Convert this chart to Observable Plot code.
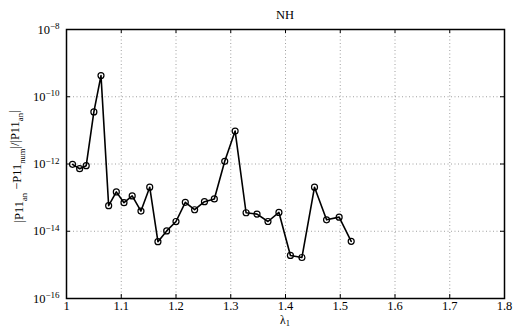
<!DOCTYPE html>
<html>
<head>
<meta charset="utf-8">
<script src="https://cdn.jsdelivr.net/npm/d3@7"></script>
<script src="https://cdn.jsdelivr.net/npm/@observablehq/plot@0.6"></script>
<style>
  html, body { margin: 0; padding: 0; background: #fff; }
  #chart svg { display: block; }
</style>
</head>
<body>
<div id="chart"></div>
<script>
// Data (lambda_1 vs relative error)
const lambda = [1.011, 1.024, 1.036, 1.050, 1.063, 1.077, 1.091, 1.105, 1.120, 1.136,
                1.152, 1.167, 1.183, 1.200, 1.217, 1.234, 1.252, 1.270, 1.289, 1.308,
                1.328, 1.348, 1.368, 1.388, 1.409, 1.430, 1.453, 1.475, 1.498, 1.520];
const logErr = [-12.01, -12.14, -12.05, -10.45, -9.37, -13.24, -12.83, -13.15, -12.95, -13.40,
                -12.69, -14.31, -13.99, -13.71, -13.14, -13.36, -13.12, -13.04, -11.92, -11.02,
                -13.45, -13.49, -13.71, -13.44, -14.72, -14.78, -12.69, -13.66, -13.58, -14.30];
const xTicks = [1, 1.1, 1.2, 1.3, 1.4, 1.5, 1.6, 1.7, 1.8];
const xTickLabels = ["1", "1.1", "1.2", "1.3", "1.4", "1.5", "1.6", "1.7", "1.8"];
const yTicks = [1e-16, 1e-14, 1e-12, 1e-10, 1e-8];
const yTickExponents = ["\u221216", "\u221214", "\u221212", "\u221210", "\u22128"];
const xGrid = [1.1, 1.2, 1.3, 1.4, 1.5, 1.6, 1.7];
const yGrid = [1e-14, 1e-12, 1e-10];
const title = "NH";

const data = lambda.map((x, i) => ({x, y: Math.pow(10, logErr[i])}));

const FONT = "'Liberation Serif', 'DejaVu Serif', serif";
const W = 518, H = 329;
const mL = 66, mR = 14, mT = 29, mB = 31;
const plotW = W - mL - mR, plotH = H - mT - mB;
const tickLen = 4;
const xTickDx = tickLen / plotW * 0.8;           // in x data units
const yTickFactor = Math.pow(10, tickLen / plotH * 8); // in log decades

const chart = Plot.plot({
  width: W,
  height: H,
  marginLeft: mL,
  marginRight: mR,
  marginTop: mT,
  marginBottom: mB,
  style: {fontFamily: FONT, fontSize: "12.5px", background: "#fff"},
  x: {domain: [1, 1.8], label: null},
  y: {type: "log", domain: [1e-16, 1e-8], label: null},
  marks: [
    Plot.gridX(xGrid, {stroke: "#888", strokeOpacity: 1, strokeWidth: 0.8, strokeDasharray: "1,2.5"}),
    Plot.gridY(yGrid, {stroke: "#888", strokeOpacity: 1, strokeWidth: 0.8, strokeDasharray: "1,2.5"}),
    // inward ticks, bottom & top
    Plot.ruleX(xTicks, {x: d => d, y1: 1e-16, y2: 1e-16 * yTickFactor, stroke: "black", strokeWidth: 1}),
    Plot.ruleX(xTicks, {x: d => d, y1: 1e-8, y2: 1e-8 / yTickFactor, stroke: "black", strokeWidth: 1}),
    // inward ticks, left & right
    Plot.ruleY(yTicks, {y: d => d, x1: 1, x2: 1 + xTickDx, stroke: "black", strokeWidth: 1}),
    Plot.ruleY(yTicks, {y: d => d, x1: 1.8, x2: 1.8 - xTickDx, stroke: "black", strokeWidth: 1}),
    Plot.axisX(xTicks, {tickSize: 0, tickPadding: 3, tickFormat: d => xTickLabels[xTicks.indexOf(d)], fontSize: 12.5}),
    Plot.axisY(yTicks, {tickSize: 0, tickPadding: 7, tickFormat: d => "10", fontSize: 12.5}),
    Plot.line(data, {x: "x", y: "y", stroke: "black", strokeWidth: 1.6}),
    Plot.dot(data, {x: "x", y: "y", r: 3, stroke: "black", strokeWidth: 1.2, fill: "none"}),
    Plot.frame({stroke: "black", strokeWidth: 1.5})
  ]
});

const svg = d3.select(chart);
// superscript exponents on y tick labels
svg.selectAll('g[aria-label="y-axis tick label"] text').each(function(d, i) {
  const t = d3.select(this);
  const idx = yTicks.indexOf(d);
  t.text(null);
  t.append("tspan").text("10");
  t.append("tspan").attr("dy", "-0.5em").attr("font-size", "9px").text(yTickExponents[idx >= 0 ? idx : i]);
});

// title
svg.append("text")
  .attr("x", mL + plotW / 2).attr("y", 19)
  .attr("text-anchor", "middle")
  .attr("font-family", FONT).attr("font-size", "12.5px")
  .text(title);

// x label  λ_1
const xl = svg.append("text")
  .attr("x", mL + plotW / 2).attr("y", 324)
  .attr("text-anchor", "middle")
  .attr("font-family", FONT).attr("font-size", "11.5px");
xl.append("tspan").text("\u03bb");
xl.append("tspan").attr("dy", "0.25em").attr("font-size", "8.5px").text("1");

// y label  |P11_an − P11_num| / |P11_an|
const yl = svg.append("text")
  .attr("transform", `translate(23,${mT + plotH / 2 + 3}) rotate(-90)`)
  .attr("text-anchor", "middle")
  .attr("font-family", FONT).attr("font-size", "12.5px");
const parts = [["|P11", 0], ["an", 1], [" \u2212P11", 0], ["num", 1], ["|/|P11", 0], ["an", 1], ["|", 0]];
let shifted = false;
parts.forEach(([s, sub]) => {
  const ts = yl.append("tspan").text(s);
  if (sub && !shifted) { ts.attr("dy", "0.45em").attr("font-size", "8.5px"); shifted = true; }
  else if (sub) { ts.attr("font-size", "8.5px"); }
  else if (!sub && shifted) { ts.attr("dy", "-0.45em"); shifted = false; }
});

document.getElementById("chart").appendChild(chart);
</script>
</body>
</html>
